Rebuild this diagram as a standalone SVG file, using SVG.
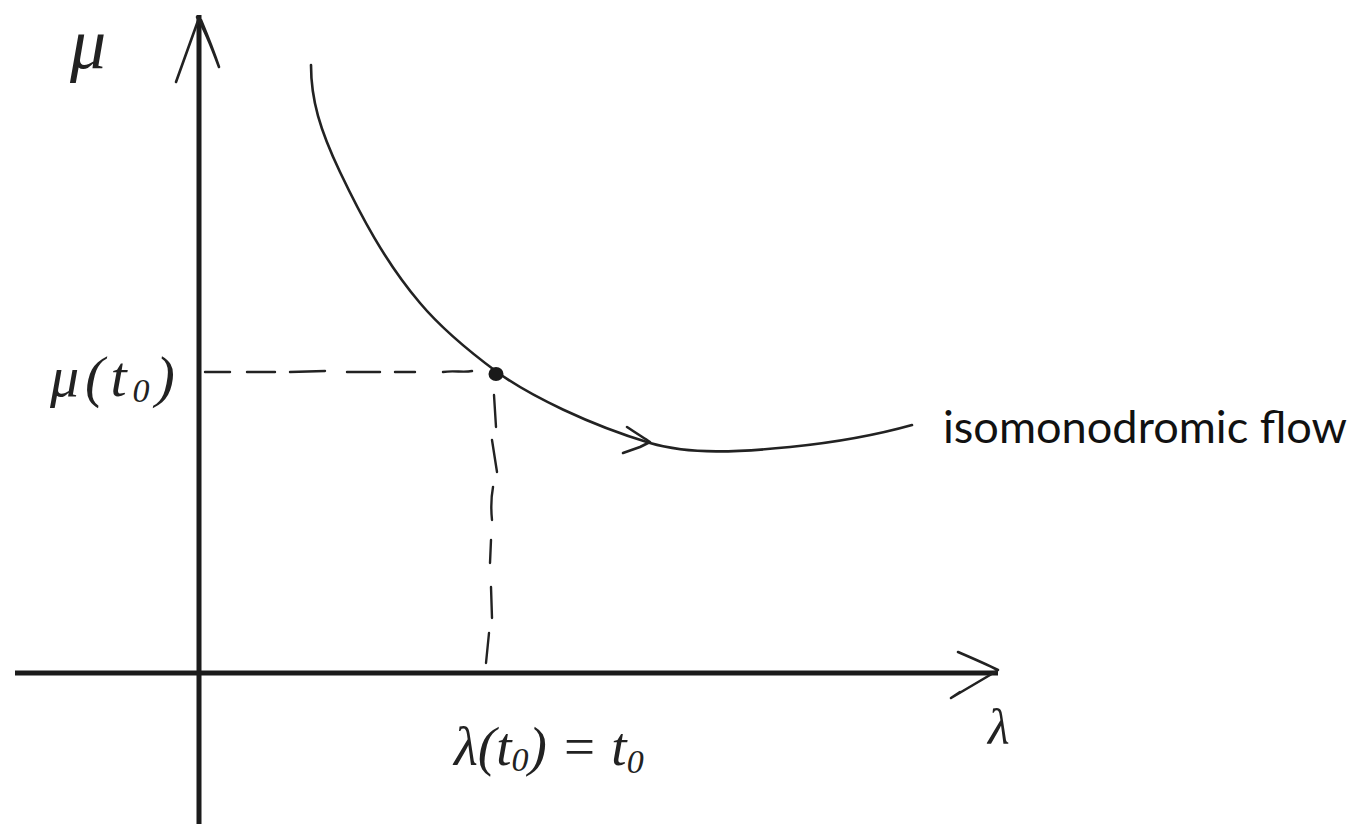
<svg xmlns="http://www.w3.org/2000/svg" width="1356" height="824" viewBox="0 0 1356 824">
  <style>
    .axis { stroke: #1b1b1b; stroke-width: 5; fill: none; stroke-linecap: butt; }
    .pen { stroke: #222; stroke-width: 2.6; fill: none; stroke-linecap: round; stroke-linejoin: round; }
    .dash { stroke: #222; stroke-width: 2.4; fill: none; stroke-linecap: round; }
    .hand { font-family: "Liberation Serif", "DejaVu Serif", serif; font-style: italic; fill: #222; }
    .label { font-family: Lato, "Noto Sans", "Liberation Sans", sans-serif; fill: #111; }
  </style>
  <rect width="1356" height="824" fill="#ffffff"/>

  <g id="connectors">
    <g id="mu-axis">
      <line class="axis" x1="199" y1="15" x2="199" y2="824"/>
      <path class="pen" d="M176,82 L199,18"/>
      <path class="pen" d="M197,17 C205,30 212,48 219,67 C214,52 206,32 201,20"/>
    </g>
    <g id="lambda-axis">
      <line class="axis" x1="15" y1="673" x2="998" y2="673"/>
      <path class="pen" d="M958,652 C972,658 986,664 998,670 L990,675 L951,698 L960,692"/>
    </g>
    <g id="projections">
      <path class="dash" d="M205,372 L230,372 M247,372 L275,372 M290,372 L325,371 M347,372 L380,372 M395,372 L415,372 M443,372 C455,370 462,373 472,371"/>
      <path class="dash" d="M494,395 L496,427 M492,440 L497,472 M493,487 C491,498 491,510 492,520 M491,540 L490,563 M491,587 L492,618 M489,633 L486,663"/>
    </g>
    <g id="flow-curve">
      <path class="pen" d="M311,65 C311,100 320,130 340,172 C360,214 385,262 420,303 C441,328 470,352 497,372 C530,396 590,425 650,443 C690,455 740,452 790,447 C840,442 880,434 912,425"/>
      <path class="pen" d="M627,427 C636,433 644,438 650,442 L640,447 L623,453"/>
    </g>
  </g>

  <g id="point-t0">
    <ellipse cx="496" cy="374" rx="7.5" ry="7" fill="#1a1a1a"/>
  </g>

  <g id="label-mu">
    <text class="hand" x="70" y="68" font-size="72">μ</text>
  </g>
  <g id="label-mu-t0">
    <text class="hand" x="50" y="396" font-size="58" letter-spacing="6">μ(t<tspan font-size="34" dy="6">0</tspan><tspan dy="-6">)</tspan></text>
  </g>
  <g id="label-lambda-t0">
    <text class="hand" x="454" y="765" font-size="55">λ(t<tspan font-size="34" dy="6">0</tspan><tspan dy="-6">) = t</tspan><tspan font-size="34" dy="8">0</tspan></text>
  </g>
  <g id="label-lambda">
    <text class="hand" x="988" y="744" font-size="50">λ</text>
  </g>
  <g id="label-flow">
    <text class="label" x="943" y="443" font-size="44" textLength="404" lengthAdjust="spacingAndGlyphs">isomonodromic flow</text>
  </g>
</svg>
